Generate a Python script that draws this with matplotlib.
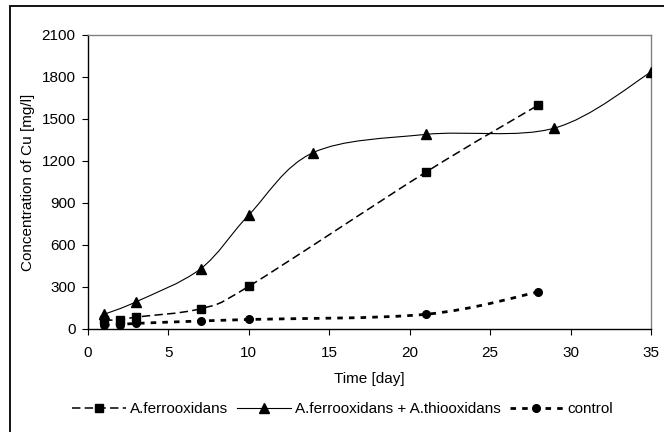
import matplotlib
matplotlib.use('Agg')
import matplotlib.pyplot as plt
from matplotlib.path import Path
from matplotlib.patches import PathPatch, Rectangle
from matplotlib.lines import Line2D

plt.rcParams['font.family'] = ['Liberation Sans', 'DejaVu Sans']

#data
ferro_days = [1, 2, 3, 7, 10, 21, 28]
ferro_cu = [65, 65, 85, 145, 305, 1120, 1600]

mixed_days = [1, 3, 7, 10, 14, 21, 29, 35]
mixed_cu = [105, 195, 430, 815, 1260, 1390, 1435, 1835]

control_days = [1, 2, 3, 7, 10, 21, 28]
control_cu = [28, 30, 40, 57, 68, 105, 265]

labels = ['A.ferrooxidans', 'A.ferrooxidans + A.thiooxidans', 'control']
xticks = [0, 5, 10, 15, 20, 25, 30, 35]
yticks = [0, 300, 600, 900, 1200, 1500, 1800, 2100]

fs = 11


def smooth_path(x, y):
    #excel style smoothed line: bezier segments with catmull-rom controls
    n = len(x)
    verts = [(x[0], y[0])]
    codes = [Path.MOVETO]
    for i in range(n - 1):
        x0, y0 = (x[i - 1], y[i - 1]) if i > 0 else (x[i], y[i])
        x3, y3 = (x[i + 2], y[i + 2]) if i + 2 < n else (x[i + 1], y[i + 1])
        c1 = (x[i] + (x[i + 1] - x0) / 6, y[i] + (y[i + 1] - y0) / 6)
        c2 = (x[i + 1] - (x3 - x[i]) / 6, y[i + 1] - (y3 - y[i]) / 6)
        verts += [c1, c2, (x[i + 1], y[i + 1])]
        codes += [Path.CURVE4] * 3
    return Path(verts, codes)


fig = plt.figure(figsize=(6.64, 4.32), dpi=100)
ax = fig.add_axes([88/664, 1 - 329/432, (651 - 88)/664, (329 - 35)/432])

styles = [
    dict(ls=(0, (5.5, 2.8)), lw=1.1, marker='s', ms=5.5),
    dict(ls='-', lw=0.8, marker='^', ms=6.5),
    dict(ls=(0, (2, 2.2)), lw=2.0, marker='o', ms=5.5),
]
series = [(ferro_days, ferro_cu), (mixed_days, mixed_cu), (control_days, control_cu)]

handles = []
for (xs, ys), st, lab in zip(series, styles, labels):
    patch = PathPatch(smooth_path(xs, ys), facecolor='none', edgecolor='black',
                      lw=st['lw'], ls=st['ls'], zorder=2)
    ax.add_patch(patch)
    ax.plot(xs, ys, ls='none', marker=st['marker'], ms=st['ms'], color='black', zorder=3)
    handles.append(Line2D([], [], color='black', ls=st['ls'], lw=st['lw'],
                          marker=st['marker'], ms=st['ms'], label=lab))

ax.set_xlim(0, 35)
ax.set_ylim(0, 2100)
ax.set_xticks(xticks)
ax.set_yticks(yticks)
ax.tick_params(direction='out', length=4, width=0.8, labelsize=fs, colors='black')
ax.tick_params(axis='x', pad=8)
ax.tick_params(axis='y', pad=5)

for side in ['top', 'right']:
    ax.spines[side].set_color('#808080')
    ax.spines[side].set_linewidth(1.0)
for side in ['left', 'bottom']:
    ax.spines[side].set_color('black')
    ax.spines[side].set_linewidth(1.0)

ax.set_xlabel('Time [day]', fontsize=fs, labelpad=9)
ax.set_ylabel('Concentration of Cu [mg/l]', fontsize=fs, labelpad=5)

fig.legend(handles=handles, loc='center', bbox_to_anchor=(0.516, 1 - 409/432),
           ncol=3, frameon=False, fontsize=fs, handlelength=3.5,
           handletextpad=0.27, columnspacing=0.6)

#outer chart frame (only top and left visible in the crop)
fig.add_artist(Rectangle((9.5/664, -0.5), 2, 0.5 + 1 - 6/432,
                         transform=fig.transFigure, fill=False,
                         edgecolor='black', lw=1.3))

fig.savefig('out.png', dpi=100)
